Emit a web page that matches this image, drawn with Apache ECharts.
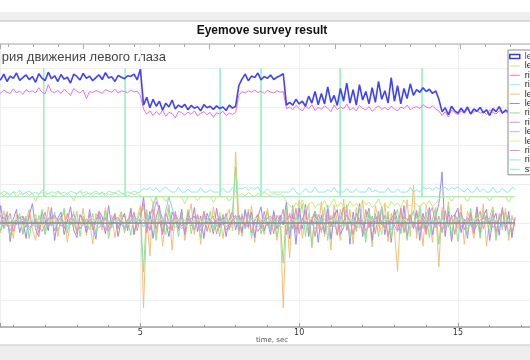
<!DOCTYPE html>
<html><head><meta charset="utf-8">
<script src="https://cdn.jsdelivr.net/npm/echarts@6/dist/echarts.min.js"></script>
<style>html,body{margin:0;padding:0;background:#fff}#c{width:530px;height:360px}</style>
</head><body><div id="c"></div>
<script>
const chartTitle = 'Eyemove survey result';
const subTitle = 'Траектория движения левого глаза';
const xName = 'time, sec';
const seriesNames = ['left eye X','left eye Y','right eye X','right eye Y','left velocity X','left velocity Y','right velocity X','right velocity Y','left acceleration X','left acceleration Y','right acceleration X','right acceleration Y','stimulus'];

// sampling grid of the dense series (sec)
const t0 = 0.5, dt = 0.1;
const leftEyeX = [
3.78,3.70,3.85,3.66,3.80,3.74,3.88,3.69,3.76,3.83,
3.71,3.79,3.64,3.86,3.75,3.68,3.90,3.73,3.81,3.66,
3.84,3.72,3.77,3.62,3.85,3.79,3.70,3.87,3.74,3.80,
3.68,3.76,3.83,3.71,3.89,3.75,3.78,3.66,3.82,3.77,
3.73,3.81,3.79,3.85,3.70,3.98,
3.05,
3.25,2.98,3.20,3.02,3.15,2.92,3.10,3.00,3.18,2.95,3.05,
2.99,3.07,2.93,3.04,2.97,3.01,2.90,3.06,2.98,3.02,2.94,3.03,2.96,3.00,2.91,3.05,2.97,3.02,
3.55,
3.72,3.85,3.68,3.80,3.76,3.88,3.70,3.79,3.74,3.83,3.71,3.77,3.81,3.86,
3.05,
3.12,3.05,3.20,3.08,3.15,3.02,3.28,3.10,3.40,3.06,
3.35,3.08,3.52,3.12,3.30,3.04,3.48,3.15,3.62,3.10,
3.45,3.05,3.58,3.18,3.40,3.08,3.50,3.12,3.66,3.20,
3.42,3.10,3.76,3.15,3.55,3.08,3.48,3.22,3.60,3.30,
3.45,3.38,3.50,3.40,3.46,3.35,3.42,3.20,
2.88,2.98,2.80,3.02,2.90,2.84,2.97,2.86,3.00,2.82,
2.95,2.89,2.99,2.85,2.93,2.78,2.96,2.88,3.01,2.84,
2.92,2.87,2.97,2.90];
const rightEyeX = [
3.40,3.36,3.44,3.38,3.35,3.47,3.37,3.41,3.33,3.45,
3.39,3.42,3.36,3.50,3.38,3.34,3.58,3.40,3.37,3.43,
3.35,3.46,3.38,3.30,3.48,3.41,3.36,3.44,3.22,3.40,
3.37,3.43,3.39,3.35,3.45,3.41,3.38,3.46,3.36,3.42,
3.40,3.37,3.44,3.39,3.41,3.30,
2.95,
2.82,2.90,2.78,2.88,2.80,2.92,2.76,2.86,2.83,2.72,2.89,
2.85,2.79,2.87,2.81,2.90,2.77,2.84,2.88,2.80,2.86,2.73,2.85,2.82,2.89,2.78,2.84,2.81,2.86,
3.30,
3.40,3.36,3.42,3.38,3.44,3.37,3.41,3.35,3.43,3.39,3.36,3.42,3.38,3.40,
2.96,
3.00,2.93,3.04,2.96,2.90,3.02,2.95,3.06,2.91,2.99,
2.94,3.03,2.97,2.88,3.05,2.93,3.00,2.95,3.08,2.92,
2.98,2.90,3.04,2.96,2.93,3.01,2.89,2.97,3.03,2.94,
2.99,2.92,3.02,2.95,2.90,3.00,2.96,3.05,2.93,2.98,
3.01,2.96,3.06,3.00,2.97,3.03,2.95,2.90,
2.78,2.88,2.74,2.92,2.85,2.80,2.90,2.83,2.95,2.82,
2.87,2.91,2.84,2.89,2.80,2.93,2.86,2.82,2.90,2.85,
2.88,2.83,2.91,2.86];
const leftEyeY = [
0.74,0.79,0.70,0.77,0.72,0.80,0.68,0.76,0.73,0.81,
0.71,0.78,0.55,0.75,0.80,0.70,0.77,0.73,0.69,0.79,
0.74,0.70,0.78,0.72,0.57,0.76,0.81,0.71,0.75,0.78,
0.70,0.77,0.73,0.79,0.68,0.75,0.72,0.80,0.71,0.76,
0.74,0.69,0.78,0.73,0.76,0.70,
0.68,
0.68,0.68,0.52,0.68,0.68,0.68,0.55,0.68,0.68,0.68,0.68,
0.68,0.50,0.68,0.68,0.68,0.58,0.68,0.68,0.68,0.68,0.53,0.68,0.68,0.68,0.68,0.56,0.68,0.68,
0.72,
0.76,0.70,0.79,0.73,0.68,0.77,0.71,0.80,0.74,0.69,0.78,0.72,0.75,0.70,
0.55,
0.45,0.38,0.52,0.42,0.60,0.35,0.48,0.55,0.40,0.50,
0.44,0.58,0.37,0.49,0.62,0.41,0.53,0.46,0.36,0.57,
0.43,0.51,0.39,0.60,0.47,0.54,0.40,0.48,0.63,0.42,
0.50,0.38,0.56,0.45,0.52,0.41,0.59,0.47,0.44,0.55,
0.48,0.40,0.53,0.46,0.58,0.43,0.50,0.62,
0.68,0.68,0.68,0.56,0.68,0.68,0.68,0.68,0.55,0.68,
0.68,0.68,0.68,0.68,0.68,0.57,0.68,0.68,0.68,0.68,
0.68,0.54,0.68,0.68];
const rightEyeY = [
0.80,0.75,0.83,0.78,0.72,0.81,0.77,0.84,0.74,0.79,
0.82,0.76,0.80,0.73,0.85,0.78,0.75,0.81,0.77,0.83,
0.76,0.80,0.74,0.82,0.79,0.75,0.84,0.77,0.81,0.73,
0.78,0.83,0.76,0.80,0.74,0.82,0.79,0.76,0.84,0.78,
0.75,0.81,0.77,0.83,0.79,0.80,
0.90,
0.86,0.92,0.84,0.91,0.80,0.88,0.93,0.85,0.80,0.80,0.92,
0.80,0.80,0.88,0.80,0.80,0.80,0.91,0.80,0.80,0.86,0.80,0.80,0.80,0.90,0.80,0.80,0.92,0.80,
0.90,
0.88,0.93,0.85,0.92,0.87,0.94,0.80,0.80,0.88,0.80,0.80,0.80,0.80,0.80,
0.80,
0.80,0.91,0.80,0.72,0.80,0.89,0.80,0.80,0.93,0.80,
0.80,0.80,0.87,0.80,0.92,0.80,0.80,0.80,0.90,0.80,
0.80,0.88,0.80,0.80,0.80,0.93,0.80,0.85,0.80,0.80,
0.80,0.91,0.80,0.80,0.88,0.80,0.80,0.80,0.92,0.80,
0.86,0.80,0.93,0.88,0.91,0.85,0.92,0.89,
0.87,0.93,0.84,0.91,0.88,0.94,0.86,0.80,0.90,0.80,
0.80,0.92,0.80,0.88,0.80,0.80,0.93,0.80,0.80,0.91,
0.80,0.80,0.92,0.88];
const leftVelX = [
0.10,-0.25,0.32,-0.10,0.05,-0.40,0.22,0.15,-0.30,0.08,
0.35,-0.15,-0.45,0.20,0.02,-0.28,0.42,-0.05,0.18,-0.35,
0.12,0.28,-0.50,0.05,0.30,-0.20,-0.08,0.38,-0.32,0.15,
-0.55,0.25,0.06,-0.18,0.40,-0.12,0.20,-0.38,0.10,0.30,
-0.22,0.05,0.35,-0.30,0.12,0.45,
-2.20,
0.20,-0.85,0.55,-0.30,0.40,-0.60,0.15,0.48,-0.70,0.25,-0.20,
0.35,-0.45,0.10,0.50,-0.30,0.22,-0.55,0.30,0.05,-0.25,0.42,-0.10,0.28,-0.40,0.15,0.35,-0.20,1.84,
0.10,
-0.35,0.30,-0.15,0.45,-0.50,0.20,0.08,-0.30,0.38,-0.12,0.25,-0.45,0.18,-2.20,
0.30,
-0.90,0.45,-0.25,0.60,-0.40,0.15,0.50,-0.65,0.30,-0.15,
0.55,-0.35,0.20,-0.70,0.48,0.05,-0.45,0.62,-0.20,0.35,
-0.55,0.40,-0.10,0.58,-0.38,0.22,-0.62,0.45,0.10,-0.30,
0.52,-0.48,0.25,-0.20,-1.25,0.40,-0.15,0.60,-0.35,0.98,
-0.40,0.30,-0.60,0.45,0.12,-0.50,0.35,-1.13,
0.40,-0.30,0.55,-0.45,0.20,-0.15,0.48,-0.55,0.30,0.05,
-0.40,0.35,-0.25,0.50,-0.60,0.15,0.42,-0.35,0.25,-0.18,
0.38,-0.45,0.20,-0.10];
const leftVelY = [
-0.30,0.45,-0.10,0.25,-0.48,0.10,0.35,-0.25,0.05,-0.40,
0.20,0.50,-0.15,-0.35,0.30,0.08,-0.20,0.40,-0.45,0.12,
0.28,-0.30,0.05,0.42,-0.18,-0.38,0.22,0.10,-0.25,0.35,
-0.08,-0.42,0.30,0.15,-0.28,0.45,-0.12,0.20,-0.35,0.08,
0.25,-0.20,0.38,-0.30,0.10,0.05,
0.68,
-0.20,0.30,-0.40,0.15,0.45,-0.25,0.05,-0.35,0.28,0.10,-0.15,
0.35,-0.30,0.12,-0.08,0.40,-0.22,0.18,-0.40,0.25,0.05,-0.28,0.38,-0.12,0.22,-0.35,0.10,0.30,-0.18,
0.20,
-0.25,0.35,-0.10,0.28,-0.38,0.15,0.42,-0.20,0.05,-0.30,0.32,-0.15,0.20,-0.05,
0.55,
-0.40,0.25,-0.55,0.38,-0.15,0.48,-0.35,0.10,0.30,-0.50,
0.20,-0.28,0.45,-0.42,0.15,0.35,-0.30,-0.10,0.40,-0.55,
0.28,-0.18,0.50,-0.35,0.12,0.38,-0.45,0.22,-0.08,0.42,
-0.30,0.18,-0.50,0.35,0.05,-0.25,0.45,-0.38,0.20,-0.12,
0.32,-0.45,0.25,-0.20,0.40,-0.30,0.15,0.50,
1.32,-0.35,0.30,-0.48,0.20,0.38,-0.25,0.10,-0.40,0.28,
-0.15,0.42,-0.30,0.18,0.35,-0.45,0.08,0.25,-0.32,0.40,
-0.20,0.30,-0.38,0.15];
const rightVelX = [
0.15,-0.20,0.05,0.30,-0.35,0.10,-0.05,0.25,-0.28,0.18,
-0.40,0.08,0.22,-0.15,0.35,-0.30,0.12,-0.08,0.28,-0.22,
0.05,0.38,-0.25,0.10,-0.12,0.30,-0.35,0.18,0.02,-0.18,
0.25,-0.30,0.15,-0.05,0.32,-0.40,0.08,0.20,-0.15,0.28,
-0.25,0.10,-0.32,0.22,0.05,0.30,
-1.26,
0.35,-0.20,0.10,-0.45,0.28,0.05,-0.30,0.40,-0.15,0.18,-0.35,
0.22,-0.10,0.35,-0.28,0.08,0.15,-0.40,0.25,-0.05,0.30,-0.22,0.12,-0.35,0.20,0.05,-0.18,0.28,1.45,
-0.30,
0.25,-0.15,0.35,-0.40,0.10,0.22,-0.28,0.05,0.30,-0.20,0.15,-0.35,0.08,-1.04,
0.40,
-0.30,0.45,-0.20,0.15,0.50,-0.35,0.25,-0.60,0.30,0.10,
-0.25,0.40,-0.45,0.20,0.05,-0.30,0.35,-0.15,0.48,-0.40,
0.15,-0.22,0.38,0.05,-0.50,0.30,-0.10,0.25,-0.35,0.42,
-0.18,0.30,-0.40,0.12,0.35,-0.28,0.20,-0.45,0.08,0.32,
-0.25,0.45,-0.15,0.28,-0.38,0.10,0.40,-0.55,
0.30,-0.20,0.45,-0.35,0.15,-0.48,0.25,0.05,-0.30,0.38,
-0.15,0.22,-0.40,0.30,0.08,-0.25,0.35,-0.45,0.18,-0.10,
0.28,-0.32,0.12,0.05];
const rightVelY = [
0.05,0.20,-0.15,0.10,0.25,-0.22,0.08,-0.05,0.18,-0.12,
0.22,-0.08,0.12,-0.25,0.05,0.28,-0.10,0.15,-0.20,0.02,
0.18,-0.15,0.25,-0.05,0.10,-0.28,0.20,0.05,-0.12,0.22,
-0.18,0.08,0.30,-0.10,0.15,-0.22,0.05,0.25,-0.15,0.10,
0.20,-0.12,0.05,0.28,-0.20,0.15,
0.50,
-0.25,0.20,0.35,-0.15,0.10,-0.30,0.25,0.05,-0.20,0.30,-0.08,
0.15,-0.25,0.28,0.02,-0.18,0.22,-0.10,0.30,-0.22,0.08,0.18,-0.28,0.12,-0.05,0.25,-0.15,0.10,0.20,
-0.20,
0.18,-0.10,0.28,-0.25,0.05,0.22,-0.15,0.30,-0.08,0.12,-0.28,0.20,0.05,0.35,
-0.30,
0.25,-0.15,0.38,-0.28,0.10,0.30,-0.20,0.15,-0.35,0.22,
0.05,-0.25,0.35,-0.10,0.28,-0.32,0.12,0.40,-0.18,0.08,
-0.30,0.25,0.05,-0.22,0.35,-0.12,0.18,-0.28,0.30,-0.05,
0.20,-0.35,0.10,0.28,-0.18,0.38,-0.25,0.05,0.22,-0.15,
0.30,-0.20,0.12,-0.30,0.25,0.40,-0.12,0.18,
-0.25,0.32,-0.10,0.20,-0.30,0.15,0.28,-0.18,0.05,0.22,
-0.28,0.12,0.30,-0.15,0.20,-0.05,0.25,-0.22,0.10,0.35,
-0.12,0.18,-0.25,0.10];

// sampling grid of the sparse series (sec)
const t0b = 0.5, dtb = 0.2;
const leftAccX = [
0.05,-0.12,0.15,-0.05,0.10,-0.18,0.08,0.12,-0.10,0.02,
0.14,-0.08,0.06,-0.15,0.10,0.03,-0.12,0.16,-0.06,0.09,
-0.14,0.05,0.12,-0.10,0.20,0.68,-0.05,0.68,0.10,-0.15,
0.08,0.15,-0.12,0.05,-0.08,0.18,-0.10,0.06,0.12,-0.14,
0.10,-0.05,0.15,-0.18,0.08,0.02,-0.12,0.14,-0.06,0.10,
-0.15,0.12,0.05,-0.10,0.18,-0.08,0.06,-0.14,0.10,0.15,
-0.05,0.12,-0.18,0.08,0.03,-0.12,0.16,-0.06,0.10,-0.10,
0.14,-0.08,0.05,0.12,-0.15,0.08,-0.05,0.10,0.15,-0.12,
0.06,-0.04];
const leftAccY = [
0.08,-0.05,0.12,0.02,-0.10,0.06,0.14,-0.08,0.04,0.10,
-0.06,0.12,0.00,-0.12,0.08,0.15,-0.04,0.06,-0.10,0.12,
0.04,-0.08,0.10,0.14,-0.06,0.02,0.12,-0.10,0.08,0.05,
-0.12,0.10,0.06,-0.05,0.15,0.02,-0.08,0.12,0.04,-0.10,
0.08,0.14,-0.06,0.10,0.00,-0.12,0.12,0.06,-0.04,0.10,
0.14,-0.10,0.05,0.12,-0.06,0.08,0.02,-0.12,0.15,0.04,
-0.08,0.10,0.06,-0.04,0.12,-0.10,0.08,0.14,-0.06,0.02,
0.10,-0.12,0.06,0.12,-0.04,0.08,0.15,-0.08,0.04,0.10,
-0.06,0.08];
const rightAccX = [
-0.10,0.15,-0.20,0.08,0.18,-0.12,0.05,-0.22,0.12,0.20,
-0.08,0.02,0.22,-0.15,0.10,-0.05,0.18,-0.20,0.06,0.14,
-0.12,0.20,-0.06,0.10,-0.18,0.55,0.12,-0.15,0.22,-0.08,
0.05,0.18,-0.20,0.12,-0.02,0.15,-0.18,0.08,0.20,-0.10,
0.12,-0.22,0.06,0.18,-0.12,0.02,0.20,-0.15,0.10,-0.05,
0.22,-0.18,0.08,0.14,-0.10,0.20,-0.06,0.12,-0.20,0.05,
0.18,-0.12,0.10,-0.22,0.15,0.04,-0.16,0.20,-0.08,0.12,
-0.18,0.06,0.22,-0.10,0.14,-0.20,0.08,0.16,-0.12,0.10,
-0.05,0.12];
const rightAccY = [
0.02,0.10,-0.08,0.12,-0.04,0.06,-0.12,0.08,0.14,-0.06,
0.04,-0.10,0.12,0.00,-0.08,0.10,0.06,-0.12,0.08,0.02,
-0.06,0.12,0.04,-0.10,0.08,0.14,-0.04,0.06,-0.12,0.10,
0.02,-0.08,0.12,0.06,-0.10,0.04,0.10,-0.06,0.08,-0.02,
0.12,-0.10,0.06,0.02,-0.08,0.14,-0.04,0.10,0.00,-0.12,
0.08,0.04,-0.10,0.12,-0.06,0.02,0.10,-0.08,0.06,0.14,
-0.04,0.08,-0.12,0.10,0.02,-0.06,0.12,0.04,-0.10,0.06,
0.10,-0.08,0.02,0.14,-0.06,0.08,-0.10,0.04,0.12,-0.02,
0.06,0.08];

// stimulus events: time / value pairs
const stimT = [0.5, 1.96,1.96,1.96, 4.52,4.52,4.52, 7.51,7.51,7.51, 8.80,8.80,8.80, 11.29,11.29,11.29, 13.87,13.87,13.87, 16.8];
const stimV = [0.68, 0.68,4.0,0.68, 0.68,4.0,0.68, 0.68,4.0,0.68, 0.68,4.0,0.68, 0.68,4.0,0.68, 0.68,4.0,0.68, 0.68];
// reference (zero) line
const zeroT = [0.5, 16.8];
const zeroV = [0, 0];

const colors = ['#4040ff','#c4ec7c','#ee70dc','#8eeede','#f6bd78','#9a88f2','#8ee08e','#f08aa2','#8ccaf2','#eeee80','#dc8aee','#8ef0c4','#8cf0bc'];

function grid(tStart, step, vals) { return vals.map((v, i) => [Math.round((tStart + i * step) * 100) / 100, v]); }
function pairs(ts, vs) { return ts.map((t, i) => [t, vs[i]]); }
function line(idx, data, width) {
  return { type: 'line', name: seriesNames[idx], data, symbol: 'none', showSymbol: false,
    lineStyle: { color: colors[idx], width: width || 1 }, itemStyle: { color: colors[idx] },
    silent: true, animation: false, xAxisIndex: 0, yAxisIndex: 0 };
}
const lineIcon = 'path://M0,0H12V1.2H0Z';

const chart = echarts.init(document.getElementById('c'), null, { renderer: 'canvas' });
chart.setOption({
  animation: false,
  backgroundColor: '#fff',
  grid: { left: 0, right: 0, top: 44, bottom: 33 },
  xAxis: [
    { type: 'value', min: 0.58, max: 17.27, splitNumber: 3, position: 'bottom',
      axisLine: { onZero: false, lineStyle: { color: '#a0a0a0', width: 1.5 } },
      axisTick: { inside: true, length: 4, lineStyle: { color: '#999' } },
      minorTick: { show: true, splitNumber: 5, length: 2, lineStyle: { color: '#999' } },
      axisLabel: { fontSize: 8, color: '#333', margin: 2, fontFamily: 'DejaVu Sans', showMinLabel: false, showMaxLabel: false },
      splitLine: { show: true, lineStyle: { color: '#eeeeee' } } },
    { type: 'value', min: 1.67, max: 22.77, splitNumber: 4, position: 'top',
      axisLine: { onZero: false, lineStyle: { color: '#c4c4c4', width: 1.5 } },
      axisTick: { inside: true, length: 5, lineStyle: { color: '#aaa' } },
      minorTick: { show: true, splitNumber: 5, length: 3, lineStyle: { color: '#aaa' } },
      axisLabel: { show: false }, splitLine: { show: false } }
  ],
  yAxis: { type: 'value', min: -2.69, max: 4.63, splitNumber: 7,
      axisLine: { show: false }, axisTick: { show: false }, axisLabel: { show: false },
      splitLine: { lineStyle: { color: '#eeeeee' } } },
  legend: {
    orient: 'vertical', left: 508, top: 50, itemWidth: 10, itemHeight: 8, itemGap: 0.4,
    padding: [2, 30, 1, 1], backgroundColor: '#fff', borderColor: '#8a8a8a', borderWidth: 1,
    selectedMode: false,
    textStyle: { fontSize: 9, lineHeight: 8, color: '#222', fontFamily: 'Liberation Sans' },
    data: seriesNames.map((n, i) => i === 0
      ? { name: n, icon: 'path://M0,0H12V5H0Z', itemStyle: { color: '#ffffff', borderColor: '#3838f0', borderWidth: 1.5 }, textStyle: { color: '#3030e8' } }
      : { name: n, icon: lineIcon, itemStyle: { color: colors[i], borderWidth: 0 } })
  },
  graphic: [
    { type: 'rect', shape: { x: 0, y: 12, width: 530, height: 8.5 }, style: { fill: '#efefef' } },
    { type: 'line', shape: { x1: 0, y1: 21, x2: 530, y2: 21 }, style: { stroke: '#cfcfcf', lineWidth: 1.5 } },
    { type: 'text', x: 262, y: 30.5, style: { text: chartTitle, font: 'bold 12px "Liberation Sans"', fill: '#111', align: 'center', verticalAlign: 'middle' } },
    { type: 'text', x: 166, y: 57, style: { text: subTitle, font: '13px "Liberation Sans"', fill: '#444', align: 'right', verticalAlign: 'middle' } },
    { type: 'text', x: 272, y: 340, style: { text: xName, font: '7px "DejaVu Sans"', fill: '#555', align: 'center', verticalAlign: 'middle' } },
    { type: 'rect', shape: { x: 0, y: 345, width: 530, height: 15 }, style: { fill: '#eeeeee' } },
    { type: 'line', shape: { x1: 0, y1: 345, x2: 530, y2: 345 }, style: { stroke: '#c8c8c8', lineWidth: 1 } }
  ],
  series: [
    line(4, grid(t0, dt, leftVelX)),
    line(5, grid(t0, dt, leftVelY)),
    line(6, grid(t0, dt, rightVelX)),
    line(7, grid(t0, dt, rightVelY)),
    line(8, grid(t0b, dtb, leftAccX)),
    line(9, grid(t0b, dtb, leftAccY)),
    line(10, grid(t0b, dtb, rightAccX)),
    line(11, grid(t0b, dtb, rightAccY)),
    { type: 'line', name: 'zero', data: pairs(zeroT, zeroV), symbol: 'none', silent: true,
      lineStyle: { color: '#8c8c8c', width: 1.5 }, xAxisIndex: 0, yAxisIndex: 0 },
    line(12, pairs(stimT, stimV)),
    line(1, grid(t0, dt, leftEyeY)),
    line(3, grid(t0, dt, rightEyeY)),
    line(2, grid(t0, dt, rightEyeX)),
    line(0, grid(t0, dt, leftEyeX), 1.6)
  ]
});
</script></body></html>
